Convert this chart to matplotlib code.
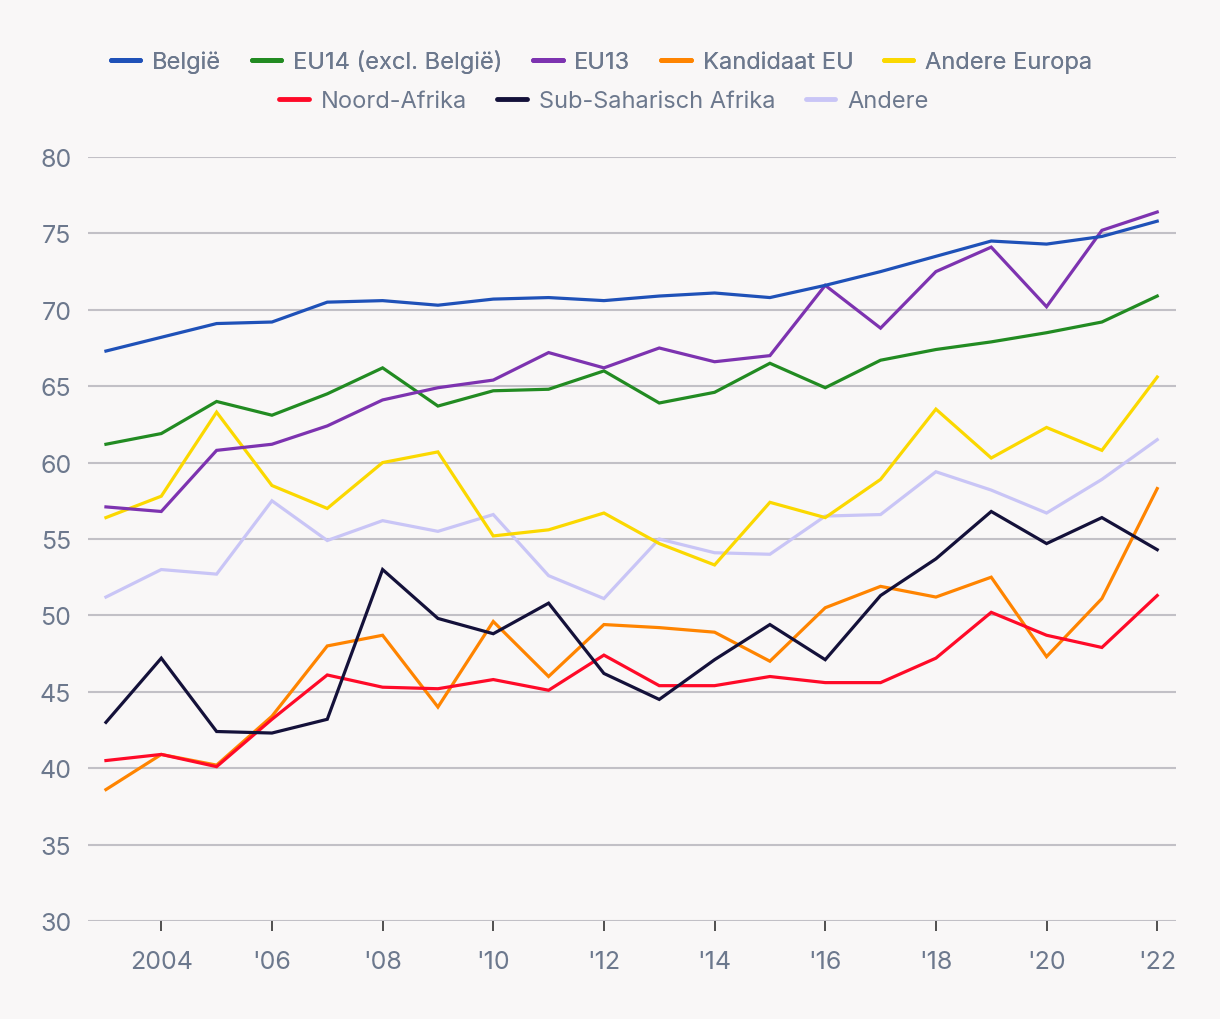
import matplotlib
matplotlib.use('Agg')
import matplotlib.pyplot as plt
from matplotlib.lines import Line2D

plt.rcParams['font.family'] = ['Inter', 'DejaVu Sans']

years = list(range(2003, 2023))

# werkzaamheidsgraad per herkomst
belgie = [67.3, 68.2, 69.1, 69.2, 70.5, 70.6, 70.3, 70.7, 70.8, 70.6,
          70.9, 71.1, 70.8, 71.6, 72.5, 73.5, 74.5, 74.3, 74.8, 75.8]
eu14 = [61.2, 61.9, 64.0, 63.1, 64.5, 66.2, 63.7, 64.7, 64.8, 66.0,
        63.9, 64.6, 66.5, 64.9, 66.7, 67.4, 67.9, 68.5, 69.2, 70.9]
eu13 = [57.1, 56.8, 60.8, 61.2, 62.4, 64.1, 64.9, 65.4, 67.2, 66.2,
        67.5, 66.6, 67.0, 71.6, 68.8, 72.5, 74.1, 70.2, 75.2, 76.4]
kandidaat = [38.6, 40.9, 40.2, 43.4, 48.0, 48.7, 44.0, 49.6, 46.0, 49.4,
             49.2, 48.9, 47.0, 50.5, 51.9, 51.2, 52.5, 47.3, 51.1, 58.3]
andere_europa = [56.4, 57.8, 63.3, 58.5, 57.0, 60.0, 60.7, 55.2, 55.6, 56.7,
                 54.7, 53.3, 57.4, 56.4, 58.9, 63.5, 60.3, 62.3, 60.8, 65.6]
noord_afrika = [40.5, 40.9, 40.1, 43.2, 46.1, 45.3, 45.2, 45.8, 45.1, 47.4,
                45.4, 45.4, 46.0, 45.6, 45.6, 47.2, 50.2, 48.7, 47.9, 51.3]
sub_sahara = [43.0, 47.2, 42.4, 42.3, 43.2, 53.0, 49.8, 48.8, 50.8, 46.2,
              44.5, 47.1, 49.4, 47.1, 51.3, 53.7, 56.8, 54.7, 56.4, 54.3]
andere = [51.2, 53.0, 52.7, 57.5, 54.9, 56.2, 55.5, 56.6, 52.6, 51.1,
          55.0, 54.1, 54.0, 56.5, 56.6, 59.4, 58.2, 56.7, 58.9, 61.5]

labels = ['België', 'EU14 (excl. België)', 'EU13', 'Kandidaat EU', 'Andere Europa',
          'Noord-Afrika', 'Sub-Saharisch Afrika', 'Andere']
series = [belgie, eu14, eu13, kandidaat, andere_europa, noord_afrika, sub_sahara, andere]
colors = ['#1f51b8', '#228b22', '#7d33b0', '#ff8400', '#fbd800',
          '#ff0a28', '#14113a', '#c9c5f6']
# tekenvolgorde (onderste eerst)
order = [7, 4, 3, 5, 6, 1, 2, 0]

xticks = [2004, 2006, 2008, 2010, 2012, 2014, 2016, 2018, 2020, 2022]
xticklabels = ['2004', "'06", "'08", "'10", "'12", "'14", "'16", "'18", "'20", "'22"]

bg = '#f9f7f7'
txt = '#6c788d'

fig = plt.figure(figsize=(12.2, 10.2), dpi=100, facecolor=bg)
ax = fig.add_axes([0.0721, 0.0961, 0.892, 0.749])
ax.set_facecolor(bg)

for i in order:
    ax.plot(years, series[i], color=colors[i], lw=2.3, solid_joinstyle='miter', zorder=3)

ax.set_xlim(2002.675, 2022.343)
ax.set_ylim(30, 80)
ax.set_yticks(range(30, 81, 5))
ax.set_xticks(xticks)
ax.set_xticklabels(xticklabels)
ax.grid(axis='y', color='#c2c0c6', lw=1.5, zorder=1)
for s in ax.spines.values():
    s.set_visible(False)
ax.tick_params(axis='y', length=0, pad=12, labelsize=18, labelcolor=txt)
ax.tick_params(axis='x', length=7, width=1.2, color='#333333', pad=14,
               labelsize=18, labelcolor=txt)

handles = [Line2D([], [], color=c, lw=3.5, solid_capstyle='round') for c in colors]
leg1 = fig.legend(handles[:5], labels[:5], loc='center', bbox_to_anchor=(0.493, 0.939),
                  ncol=5, frameon=False, fontsize=17, handlelength=1.25,
                  handletextpad=0.5, columnspacing=1.3, labelcolor=txt)
leg2 = fig.legend(handles[5:], labels[5:], loc='center', bbox_to_anchor=(0.495, 0.900),
                  ncol=3, frameon=False, fontsize=17, handlelength=1.25,
                  handletextpad=0.5, columnspacing=1.3, labelcolor=txt)
fig.add_artist(leg1)

fig.savefig('out.png', dpi=100, facecolor=bg)
